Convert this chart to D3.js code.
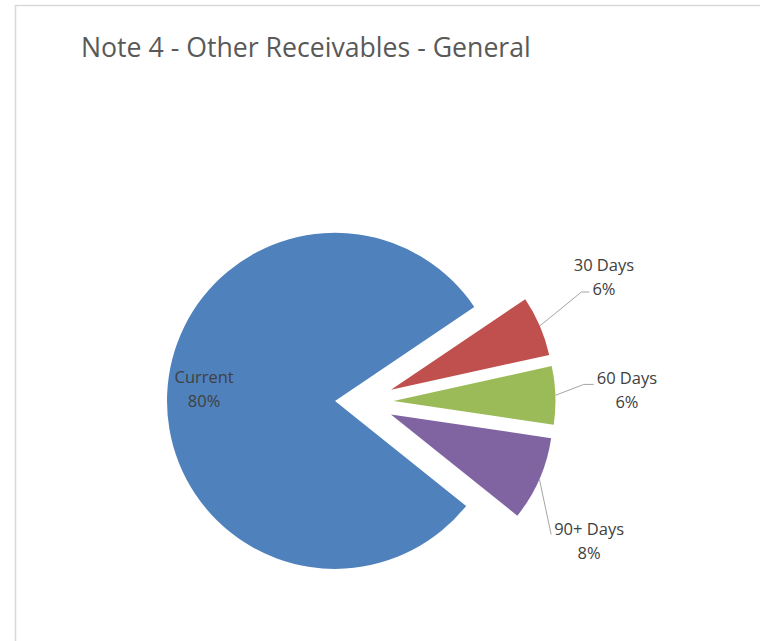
<!DOCTYPE html>
<html>
<head>
<meta charset="utf-8">
<script src="https://cdn.jsdelivr.net/npm/d3@7"></script>
<style>
  html, body { margin: 0; padding: 0; background: #ffffff; }
  svg { display: block; }
</style>
</head>
<body>
<svg id="chart" width="760" height="641"></svg>
<script>
// ---- data ----
const title = "Note 4 - Other Receivables - General";
const categories = ["Current", "30 Days", "60 Days", "90+ Days"];
const values = [79.8, 6.0, 5.8, 8.4];           // percent of total
const percentLabels = ["80%", "6%", "6%", "8%"];
const colors = ["#4f81bd", "#c0504d", "#9bbb59", "#8064a2"];

// ---- layout / style ----
const W = 760, H = 641;
const center = [362.5, 402];
const explode = [27.5, 31, 31, 31];
const radius = [168, 162, 162, 162];
const startDeg = 128.7;
// label placement: polar offset from exploded slice centre (degrees relative to mid angle, distance)
const labelPlace = [
  { inside: true, dist: 131, rot: 0 },
  { inside: false, dist: 238, rot: -3.3, attachLine: 1, attachDy: -3, stub: 8 },
  { inside: false, dist: 233.5, rot: 1.0, attachLine: 0, attachDy: 0, stub: 10 },
  { inside: false, dist: 239, rot: 10.4, attachLine: 0, attachDy: -1, stub: 0 }
];
const lineGap = 24;
const labelFont = "'Open Sans', 'Liberation Sans', sans-serif";

const svg = d3.select("#chart");

// chart border (left + top visible)
svg.append("path")
  .attr("d", `M15.5,${H} L15.5,5.5 L${W},5.5`)
  .attr("fill", "none")
  .attr("stroke", "#d9d9d9")
  .attr("stroke-width", 1.5);

// title
const t = svg.append("text")
  .attr("x", 81).attr("y", 57)
  .attr("fill", "#595959")
  .style("font-family", labelFont)
  .style("font-size", "26px")
  .text(title);
const tw = t.node().getComputedTextLength();
t.style("font-size", (26 * 450 / tw).toFixed(2) + "px");

const start = startDeg * Math.PI / 180;
const pie = d3.pie().sort(null).value(d => d)
  .startAngle(start).endAngle(start + 2 * Math.PI);
const arcs = pie(values);

// screen direction helpers (d3 angle 0 = 12 o'clock, clockwise)
const ux = a => Math.sin(a), uy = a => -Math.cos(a);

const g = svg.append("g");
arcs.forEach((a, i) => {
  const mid = (a.startAngle + a.endAngle) / 2;
  const cx = center[0] + explode[i] * ux(mid);
  const cy = center[1] + explode[i] * uy(mid);
  const arcGen = d3.arc().innerRadius(0).outerRadius(radius[i]);
  g.append("path")
    .attr("transform", `translate(${cx},${cy})`)
    .attr("d", arcGen(a))
    .attr("fill", colors[i]);

  const lp = labelPlace[i];
  const la = mid + lp.rot * Math.PI / 180;
  const lx = cx + lp.dist * ux(la);
  const ly = cy + lp.dist * uy(la);
  const lines = [categories[i], percentLabels[i]];
  const base0 = ly - lineGap / 2 - 0.5;
  const txt = svg.append("g");
  const nodes = lines.map((s, k) => txt.append("text")
    .attr("x", lx).attr("y", base0 + k * lineGap)
    .attr("text-anchor", "middle")
    .attr("fill", "#404040")
    .style("font-family", labelFont)
    .style("font-size", "16.5px")
    .text(s));

  if (!lp.inside) {
    const p0x = cx + radius[i] * ux(mid);
    const p0y = cy + radius[i] * uy(mid);
    const node = nodes[lp.attachLine].node();
    const bb = node.getBBox();
    const ex = bb.x - 3;
    const ey = base0 + lp.attachLine * lineGap + lp.attachDy;
    svg.append("path")
      .attr("d", `M${p0x},${p0y} L${ex - lp.stub},${ey} L${ex},${ey}`)
      .attr("fill", "none")
      .attr("stroke", "#a6a6a6")
      .attr("stroke-width", 1);
  }
});
</script>
</body>
</html>
